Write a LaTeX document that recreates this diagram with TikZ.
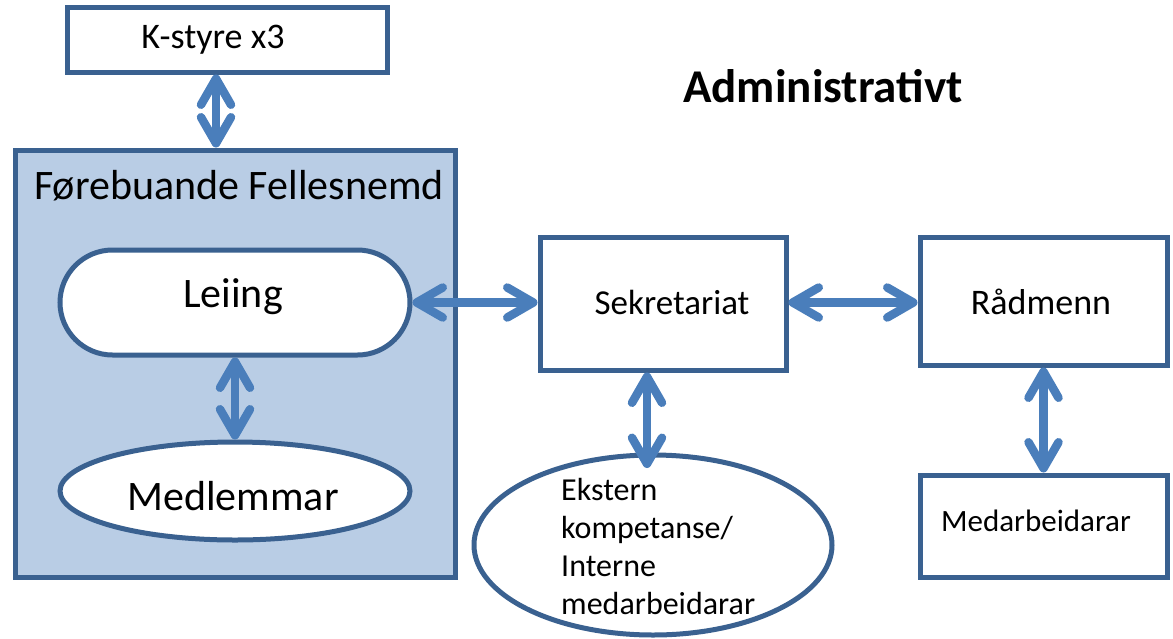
\documentclass[tikz,border=0pt]{standalone}
\usepackage{fontspec}
\setmainfont{Carlito}
\usetikzlibrary{arrows.meta,shapes.geometric,shapes.misc}
\definecolor{bord}{HTML}{3A6190}
\definecolor{fillb}{HTML}{B9CDE5}
\definecolor{arrc}{HTML}{4A7EBB}
\newcommand{\fs}[1]{\fontsize{#1}{#1}\selectfont}
\tikzset{
  boxst/.style={draw=bord, line width=5pt, fill=white, inner sep=0pt},
  arr/.style={draw=arrc, line width=8.5pt, line cap=round,
    {Straight Barb[length=26pt,width=30pt,round]}-{Straight Barb[length=26pt,width=30pt,round]},
    shorten <=0pt, shorten >=0pt},
}
\begin{document}
\begin{tikzpicture}[x=1pt,y=-1pt]
\useasboundingbox (0,0) rectangle (1173,638);
% nodes
\node[boxst, minimum width=320, minimum height=65,
  label={[xshift=-14pt]center:\fs{36}K-styre x3}] (kstyre) at (227,39.5) {};
\node[boxst, fill=fillb, minimum width=440, minimum height=427] (fn) at (235,363.5) {};
\node[anchor=center] (fntitle) at (239,186) {\fs{42}Førebuande Fellesnemd};
\node[boxst, rounded rectangle, minimum width=350, minimum height=105] (leiing) at (235,302.5) {};
\node (leiingt) at (233,297) {\fs{42}Leiing};
\node[boxst, ellipse, minimum width=350, minimum height=98] (medl) at (235,491) {};
\node (medlt) at (233,496) {\fs{42}Medlemmar};
\node[boxst, minimum width=246, minimum height=133] (sekr) at (663,303.5) {};
\node (sekrt) at (672,302) {\fs{35}Sekretariat};
\node[boxst, minimum width=247, minimum height=128] (radm) at (1043.5,301) {};
\node (radmt) at (1041,302) {\fs{36}Rådmenn};
\node[boxst, ellipse, minimum width=358, minimum height=180] (ekst) at (653,545) {};
\node[align=left, font=\fs{32}, inner sep=0pt, anchor=north west] (ekstt) at (561,478)
  {Ekstern\\[6pt]kompetanse/\\[6pt]Interne\\[6pt]medarbeidarar};
\node[boxst, minimum width=247, minimum height=102] (medarb) at (1043.5,526) {};
\node (medarbt) at (1036,521) {\fs{31}Medarbeidarar};
\node (admin) at (823,86) {\fs{47}\bfseries Administrativt};
% connectors
\draw[arr] (216,0 |- kstyre.south) -- (216,0 |- fn.north);
\draw[arr] (leiing.south) -- (medl.north);
\draw[arr] (leiing.east) -- (sekr.west |- leiing.east);
\draw[arr] (sekr.east |- leiing.east) -- (radm.west |- leiing.east);
\draw[arr] (647,0 |- sekr.south) -- (647,468);
\draw[arr] (radm.south) -- (medarb.north);
\end{tikzpicture}
\end{document}
